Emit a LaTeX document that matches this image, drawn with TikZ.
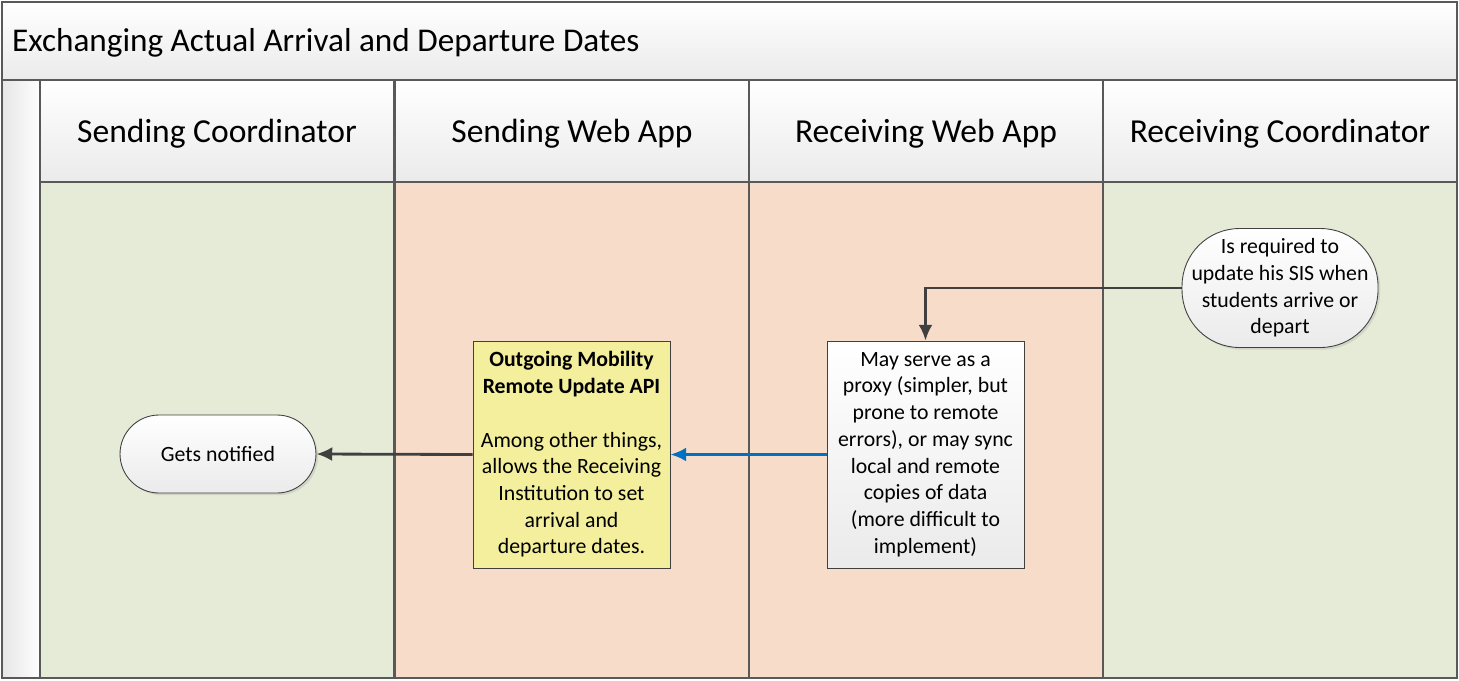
\documentclass[tikz,border=0pt]{standalone}
\usepackage{fontspec}
\setmainfont{Carlito}
\usetikzlibrary{arrows.meta,shadows}
\definecolor{laneGreen}{HTML}{E6EBD7}
\definecolor{laneOrange}{HTML}{F8DCCA}
\definecolor{edgeGrey}{HTML}{595959}
\definecolor{arrowGrey}{HTML}{404040}
\definecolor{arrowBlue}{HTML}{0070C0}
\definecolor{noteYellow}{HTML}{F3EF9C}
\tikzset{
  frame/.style={draw=edgeGrey, line width=1.2pt},
  hdrbox/.style={frame, top color=white, bottom color=black!8},
  bodytext/.style={font=\fontsize{12.4}{15.2}\selectfont, align=center, text=black},
  terminal/.style={bodytext, draw=arrowGrey, line width=0.5pt, top color=white, bottom color=black!8,
    drop shadow={opacity=0.2, shadow xshift=1.2pt, shadow yshift=-1.2pt}},
  process/.style={bodytext, draw=arrowGrey, line width=0.5pt, minimum width=3.94cm, minimum height=4.54cm},
  conn/.style={draw=arrowGrey, line width=1.6pt, -{Latex[length=9pt,width=8pt]}},
}
\begin{document}
\begin{tikzpicture}[x=0.02cm, y=-0.02cm]
			%%%%% START %%%%%
			\useasboundingbox (0, 0) rectangle (1459, 680);
			
			% title band and left strip
			\draw[hdrbox] (2, 2) rectangle (1457, 80);
			\node[anchor=west, font=\fontsize{18.9}{22}\selectfont] (title) at (6, 43) {Exchanging Actual Arrival and Departure Dates};
			\draw[frame, left color=black!10, right color=white] (2, 80) rectangle (40, 678);
			
			% lanes
			\foreach \x/\col/\name [count=\i] in {40/laneGreen/Sending Coordinator, 395/laneOrange/Sending Web App, 749/laneOrange/Receiving Web App, 1103/laneGreen/Receiving Coordinator}{
				\draw[frame, fill=\col] (\x, 182) rectangle ++(354, 496);
				\draw[hdrbox] (\x, 80) rectangle ++(354, 102);
				\node[font=\fontsize{19.1}{22}\selectfont] (lane\i) at (\x+177, 133.5) {\name};
			}
			
			% shapes
			\node[terminal, minimum width=3.92cm, minimum height=1.56cm, rounded corners=0.78cm] (notified) at (218, 454) {Gets notified};
			\node[process, fill=noteYellow] (api) at (571.5, 454.5) {\textbf{Outgoing Mobility}\\\textbf{Remote Update API}\\[15.2pt]Among other things,\\allows the Receiving\\Institution to set\\arrival and\\departure dates.};
			\node[process, top color=white, bottom color=black!8] (proxy) at (925.5, 454.5) {May serve as a\\proxy (simpler, but\\prone to remote\\errors), or may sync\\local and remote\\copies of data\\(more difficult to\\implement)};
			\node[terminal, minimum width=3.92cm, minimum height=2.38cm, rounded corners=1.15cm] (required) at (1280, 288) {Is required to\\update his SIS when\\students arrive or\\depart};
			
			% connectors
			\draw[conn] (required.west) -| (proxy.north);
			\draw[conn, draw=arrowBlue] (proxy.west) -- (api.east);
			\draw[conn] (api.west) -- (notified.east);
			
			%%%%% END %%%%%
		\end{tikzpicture}
\end{document}
